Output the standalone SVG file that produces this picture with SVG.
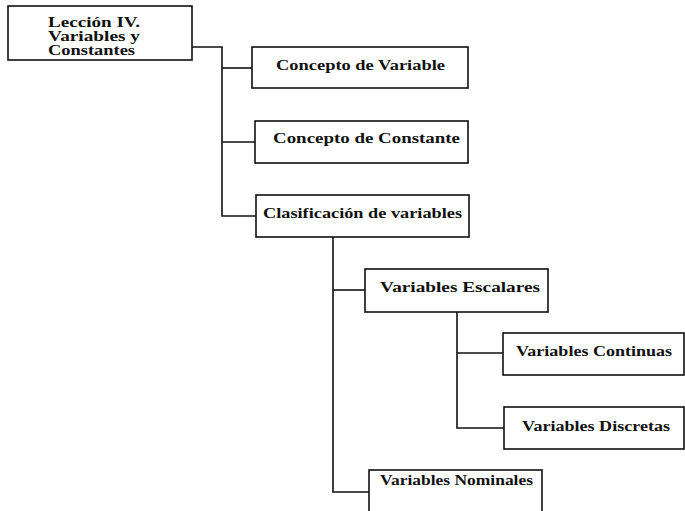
<svg xmlns="http://www.w3.org/2000/svg" width="685" height="511" viewBox="0 0 685 511">
<style>
.box{fill:#fff;stroke:#111;stroke-width:1.6}
.t{font-family:"Liberation Serif","Times New Roman",serif;font-weight:bold;font-size:15px;fill:#111}
.s{font-size:14px}
.c{fill:none;stroke:#111;stroke-width:1.6}
</style>
<rect width="685" height="511" fill="#fff"/>
<g id="connectors">
<path class="c" d="M192,47 H222 V216 H256"/>
<path class="c" d="M222,68 H252"/>
<path class="c" d="M222,142 H255"/>
<path class="c" d="M333,237 V492 H369"/>
<path class="c" d="M333,290 H365"/>
<path class="c" d="M457,312 V428 H504"/>
<path class="c" d="M457,353 H503"/>
</g>
<g id="leccion">
<rect class="box" x="8" y="6" width="184" height="54"/>
<text class="t s" x="48" y="27" textLength="92" lengthAdjust="spacingAndGlyphs">Lección IV.</text>
<text class="t s" x="48" y="41" textLength="92" lengthAdjust="spacingAndGlyphs">Variables y</text>
<text class="t s" x="48" y="55" textLength="87" lengthAdjust="spacingAndGlyphs">Constantes</text>
</g>
<g id="concepto-variable">
<rect class="box" x="252" y="47" width="216" height="41"/>
<text class="t" x="276" y="70" textLength="169" lengthAdjust="spacingAndGlyphs">Concepto de Variable</text>
</g>
<g id="concepto-constante">
<rect class="box" x="255" y="121" width="213" height="42"/>
<text class="t" x="273" y="143" textLength="187" lengthAdjust="spacingAndGlyphs">Concepto de Constante</text>
</g>
<g id="clasificacion">
<rect class="box" x="256" y="195" width="213" height="42"/>
<text class="t" x="263" y="218" textLength="199" lengthAdjust="spacingAndGlyphs">Clasificación de variables</text>
</g>
<g id="escalares">
<rect class="box" x="365" y="269" width="183" height="43"/>
<text class="t" x="380" y="292" textLength="160" lengthAdjust="spacingAndGlyphs">Variables Escalares</text>
</g>
<g id="continuas">
<rect class="box" x="503" y="333" width="181" height="42"/>
<text class="t" x="516" y="356" textLength="156" lengthAdjust="spacingAndGlyphs">Variables Continuas</text>
</g>
<g id="discretas">
<rect class="box" x="504" y="407" width="180" height="42"/>
<text class="t" x="522" y="431" textLength="148" lengthAdjust="spacingAndGlyphs">Variables Discretas</text>
</g>
<g id="nominales">
<rect class="box" x="369" y="470" width="173" height="50"/>
<text class="t" x="380" y="485" textLength="153" lengthAdjust="spacingAndGlyphs">Variables Nominales</text>
</g>
</svg>
